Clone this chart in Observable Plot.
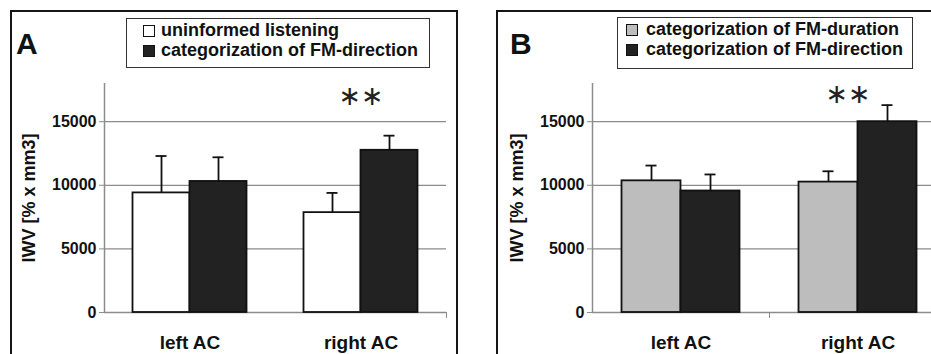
<!DOCTYPE html>
<html>
<head>
<meta charset="utf-8">
<script src="https://cdn.jsdelivr.net/npm/d3@7"></script>
<script src="https://cdn.jsdelivr.net/npm/@observablehq/plot@0.6"></script>
<style>
  body { margin: 0; background: #fff; font-family: "Liberation Sans", Arial, sans-serif; }
  #root { position: relative; width: 931px; height: 354px; overflow: hidden; background: #fff; }
  .frame { position: absolute; border: 2px solid #151515; border-bottom: none; box-sizing: border-box; }
  .plotwrap { position: absolute; top: 0; height: 354px; overflow: hidden; }
  .plotwrap svg { max-width: none !important; height: 354px !important; display: block; }
  .letter { position: absolute; font-weight: bold; font-size: 30px; line-height: 30px; color: #111; }
  .legend { position: absolute; border: 1.5px solid #333; box-sizing: border-box; background: #fff;
            font-weight: bold; font-size: 18px; line-height: 20px; color: #111; white-space: nowrap; }
  .legend .row { height: 20px; }
  .legend .sw { display: inline-block; width: 12px; height: 12px; box-sizing: border-box;
                border: 1.5px solid #111; vertical-align: -1px; }
</style>
</head>
<body>
<div id="root"></div>
<script>
// ---------- data ----------
const regions = ["left AC", "right AC"];
const yTicks = [0, 5000, 10000, 15000];

const seriesA = ["uninformed listening", "categorization of FM-direction"];
const colorsA = ["#ffffff", "#222222"];
const meanA_uninformed = [9400, 7850];
const upperA_uninformed = [12300, 9400];
const meanA_direction = [10300, 12750];
const upperA_direction = [12200, 13900];
const sigA = ["", "∗∗"];

const seriesB = ["categorization of FM-duration", "categorization of FM-direction"];
const colorsB = ["#bdbdbd", "#222222"];
const meanB_duration = [10350, 10250];
const upperB_duration = [11550, 11100];
const meanB_direction = [9550, 15000];
const upperB_direction = [10850, 16300];
const sigB = ["", "∗∗"];

// ---------- helpers ----------
function rowsFor(series, means, uppers) {
  const rows = [];
  series.forEach((s, si) => {
    regions.forEach((r, ri) => {
      rows.push({region: r, ri, series: s, si, value: means[si][ri], upper: uppers[si][ri]});
    });
  });
  return rows;
}
// category layout (like a spreadsheet category axis): each region occupies one unit,
// its bar group the central 2/3 of it
const x1Of = d => d.ri + 1/6 + d.si / 3;
const x2Of = d => d.ri + 1/6 + (d.si + 1) / 3;
const xcOf = d => d.ri + 1/6 + (d.si + 0.5) / 3;

function panel({series, colors, means, uppers, sig, width, marginLeft, boundaryTicks, sigDx, sigDy}) {
  const data = rowsFor(series, means, uppers);
  const grid = "#8c8c8c";
  return Plot.plot({
    width, height: 354,
    marginLeft, marginRight: 19, marginTop: 83, marginBottom: 42,
    style: {fontFamily: "'Liberation Sans', Arial, sans-serif", background: "transparent", overflow: "visible", maxWidth: "none"},
    x: {type: "linear", domain: [0, regions.length], axis: null},
    y: {domain: [0, 18000], axis: null},
    color: {domain: series, range: colors},
    marks: [
      Plot.ruleY(yTicks.slice(1), {x1: 0, x2: regions.length, stroke: grid, strokeWidth: 1.3}),
      Plot.ruleY([0], {x1: 0, x2: regions.length, stroke: grid, strokeWidth: 1.5}),
      Plot.ruleX([0], {y1: 0, y2: 18000, stroke: grid, strokeWidth: 1.5}),
      Plot.axisY({ticks: yTicks, tickSize: 5, tickPadding: 3, stroke: grid, fill: "#111",
                  fontSize: 16, fontWeight: "bold", label: null, tickFormat: d => String(d)}),
      Plot.axisY({anchor: "left", ticks: [], label: "IWV [% x mm3]", labelAnchor: "center",
                  labelArrow: "none", labelOffset: 82, fontSize: 18, fontWeight: "bold", fill: "#111"}),
      Plot.axisX({ticks: boundaryTicks, tickSize: 6, stroke: grid, tickFormat: () => ""}),
      Plot.axisX({ticks: regions.map((_, i) => i + 0.5), tickFormat: v => regions[Math.floor(v)],
                  tickSize: 0, tickPadding: 23, fontSize: 19, fontWeight: "bold", fill: "#111", label: null}),
      Plot.rectY(data, {x1: x1Of, x2: x2Of, y1: 0, y2: "value", fill: "series", stroke: "#111", strokeWidth: 1.8}),
      Plot.ruleX(data, {x: xcOf, y1: "value", y2: "upper", stroke: "#111", strokeWidth: 1.8}),
      Plot.ruleY(data, {y: "upper", x1: xcOf, x2: xcOf, insetLeft: -5.5, insetRight: -5.5, stroke: "#111", strokeWidth: 1.8}),
      Plot.text(sig, {x: (d, i) => i + 0.5, frameAnchor: "top", lineAnchor: "middle", dy: sigDy, dx: sigDx,
                      text: d => d, fontSize: 27, fill: "#222", fontFamily: "DejaVu Sans",
                      letterSpacing: "1px"})
    ]
  });
}

// ---------- layout ----------
const root = document.getElementById("root");

function el(cls, style, html) {
  const d = document.createElement("div");
  d.className = cls;
  Object.assign(d.style, style);
  if (html != null) d.innerHTML = html;
  root.appendChild(d);
  return d;
}

// Panel A
const wrapA = el("plotwrap", {left: "0px", width: "465px"});
wrapA.appendChild(panel({series: seriesA, colors: colorsA,
  means: [meanA_uninformed, meanA_direction], uppers: [upperA_uninformed, upperA_direction],
  sig: sigA, width: 465, marginLeft: 104, boundaryTicks: [2], sigDx: 0, sigDy: 13}));
el("frame", {left: "10px", top: "10px", width: "448px", height: "360px"});
el("letter", {left: "16px", top: "29px"}, "A");
const legA = el("legend", {left: "126px", top: "18px", width: "304px", height: "50px", padding: "1px 0 0 16px"});
legA.innerHTML = seriesA.map((s, i) =>
  `<div class="row"><span class="sw" style="background:${colorsA[i]}"></span><span style="margin-left:6px">${s}</span></div>`).join("");

// Panel B
const wrapB = el("plotwrap", {left: "465px", width: "466px"});
wrapB.appendChild(panel({series: seriesB, colors: colorsB,
  means: [meanB_duration, meanB_direction], uppers: [upperB_duration, upperB_direction],
  sig: sigB, width: 500, marginLeft: 127, boundaryTicks: [1, 2], sigDx: -10, sigDy: 11}));
el("frame", {left: "496px", top: "10px", width: "460px", height: "360px"});
el("letter", {left: "510px", top: "29px"}, "B");
const legB = el("legend", {left: "617px", top: "17px", width: "296px", height: "52px", padding: "1px 0 0 8px"});
legB.innerHTML = seriesB.map((s, i) =>
  `<div class="row"><span class="sw" style="background:${colorsB[i]}"></span><span style="margin-left:8px">${s}</span></div>`).join("");
</script>
</body>
</html>
